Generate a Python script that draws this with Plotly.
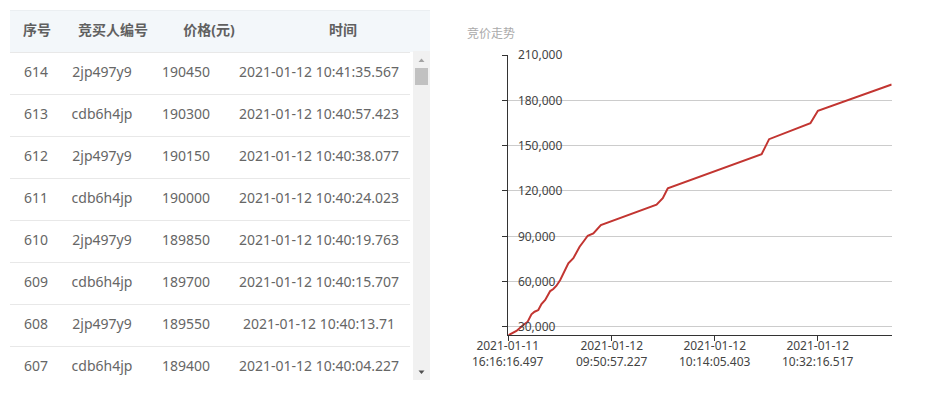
import plotly.graph_objects as go

# ---------------- data ----------------
header_labels = ["序号", "竞买人编号", "价格(元)", "时间"]
bid_seq = [614, 613, 612, 611, 610, 609, 608, 607]
bidder_ids = ["2jp497y9", "cdb6h4jp", "2jp497y9", "cdb6h4jp",
              "2jp497y9", "cdb6h4jp", "2jp497y9", "cdb6h4jp"]
bid_prices = [190450, 190300, 190150, 190000, 189850, 189700, 189550, 189400]
bid_times = ["2021-01-12 10:41:35.567", "2021-01-12 10:40:57.423",
             "2021-01-12 10:40:38.077", "2021-01-12 10:40:24.023",
             "2021-01-12 10:40:19.763", "2021-01-12 10:40:15.707",
             "2021-01-12 10:40:13.71", "2021-01-12 10:40:04.227"]

# price trend (bid sequence number vs price)
trend_seq = [1, 14, 25, 32, 38, 43, 49, 54, 60, 68, 73, 78, 84, 89, 97, 105,
             110, 115, 121, 128, 137, 149, 238, 243, 248, 256, 366, 371, 406,
             418, 484, 496, 614]
trend_price = [24500, 27350, 31300, 33500, 38400, 40100, 41200, 45200, 47900,
               53800, 55100, 57300, 61100, 65500, 72100, 75500, 79800, 83100,
               86400, 90400, 92000, 97500, 110900, 112900, 115200, 121800,
               138300, 139400, 144300, 154300, 164800, 173100, 190450]

x_tick_seq = [1, 166, 331, 496]
x_tick_labels = ["2021-01-11<br>16:16:16.497", "2021-01-12<br>09:50:57.227",
                 "2021-01-12<br>10:14:05.403", "2021-01-12<br>10:32:16.517"]
y_tick_vals = [30000, 60000, 90000, 120000, 150000, 180000, 210000]

# ---------------- layout helpers ----------------
OFF = 8                      # page body margin
W, H = 929 - OFF, 408 - OFF
FONT = "Noto Sans, Noto Sans CJK SC, sans-serif"


def px(x):
    return (x - OFF) / W


def py(y):
    return 1 - (y - OFF) / H


fig = go.Figure()

# ---- table (drawn on its own axes: x = pixel columns, y = row index) ----
row_ids = list(range(1, len(bid_seq) + 1))
body_cols = [36, 102, 186, 319]
head_cols = [37, 113, 209, 343]

fig.add_trace(go.Scatter(
    x=head_cols, y=[0] * 4, mode="text",
    text=[f"<b>{h}</b>" for h in header_labels],
    textfont=dict(family=FONT, size=14, color="#606060"),
    xaxis="x2", yaxis="y2", hoverinfo="skip", showlegend=False))

for cx, col in zip(body_cols, [bid_seq, bidder_ids, bid_prices, bid_times]):
    fig.add_trace(go.Scatter(
        x=[cx] * len(col), y=row_ids, mode="text",
        text=[str(v) for v in col],
        textfont=dict(family=FONT, size=14, color="#666"),
        xaxis="x2", yaxis="y2", hoverinfo="skip", showlegend=False))

# ---- trend chart ----
fig.add_trace(go.Scatter(
    x=trend_seq, y=trend_price, mode="lines",
    line=dict(color="#c23531", width=2),
    xaxis="x", yaxis="y", showlegend=False, hoverinfo="y"))

shapes = [
    # header background
    dict(type="rect", xref="paper", yref="y2", x0=px(10), x1=px(430),
         y0=-0.5, y1=0.5, fillcolor="#f3f7fa", line=dict(width=0), layer="below"),
    # header top border
    dict(type="line", xref="paper", yref="y2", x0=px(10), x1=px(430),
         y0=-0.5, y1=-0.5, line=dict(color="#e4e7ea", width=1)),
    # scrollbar track
    dict(type="rect", xref="paper", yref="paper", x0=px(413), x1=px(430),
         y0=py(380), y1=py(51), fillcolor="#f1f1f1", line=dict(width=0),
         layer="below"),
    # scrollbar thumb
    dict(type="rect", xref="paper", yref="paper", x0=px(415), x1=px(428),
         y0=py(85), y1=py(68), fillcolor="#c1c1c1", line=dict(width=0)),
    # arrows
    dict(type="path", xref="paper", yref="paper",
         path=f"M {px(418.5)} {py(62)} L {px(424.5)} {py(62)} L {px(421.5)} {py(58.5)} Z",
         fillcolor="#a3a3a3", line=dict(width=0)),
    dict(type="path", xref="paper", yref="paper",
         path=f"M {px(418.5)} {py(370.5)} L {px(424.5)} {py(370.5)} L {px(421.5)} {py(374)} Z",
         fillcolor="#505050", line=dict(width=0)),
]

annotations = [dict(text="竞价走势", xref="paper", yref="paper",
                    x=px(465), y=py(33), xanchor="left", yanchor="middle",
                    showarrow=False,
                    font=dict(family=FONT, size=12, color="#aaa"))]
# two-line x-axis tick labels, placed on the x axis scale
for sx, lab in zip(x_tick_seq, x_tick_labels):
    annotations.append(dict(text=lab, xref="x", yref="paper", x=sx,
                            y=py(353), xanchor="center", yanchor="middle",
                            showarrow=False, borderpad=0,
                            font=dict(family=FONT, size=12, color="#444")))

fig.update_layout(
    width=W, height=H,
    margin=dict(l=0, r=0, t=0, b=0, pad=0),
    paper_bgcolor="white", plot_bgcolor="white",
    font=dict(family=FONT, size=12, color="#333"),
    showlegend=False,
    xaxis=dict(domain=[px(508.3), px(891.7)], range=[1, 614],
               tickmode="array", tickvals=x_tick_seq, showticklabels=False,
               showgrid=False, zeroline=False, showline=True,
               linecolor="#333", linewidth=1, ticks="outside", ticklen=5,
               tickcolor="#333", automargin=False, fixedrange=True),
    yaxis=dict(domain=[py(335.3), py(55)], range=[24500, 210000],
               tickmode="array", tickvals=y_tick_vals, tickformat=",d",
               showgrid=True, gridcolor="#cccccc", gridwidth=1,
               zeroline=False, showline=True, linecolor="#333", linewidth=1,
               ticks="outside", ticklen=5, tickcolor="#333",
               ticklabelposition="inside", ticklabelstandoff=9,
               ticklabeloverflow="allow", automargin=False,
               tickfont=dict(size=12, color="#444"), fixedrange=True),
    xaxis2=dict(domain=[px(10), px(410)], range=[10, 410], visible=False,
                automargin=False, fixedrange=True),
    yaxis2=dict(domain=[py(380), py(10)], range=[-0.5 + 370 / 42, -0.5],
                tickmode="array", tickvals=[r + 0.5 for r in range(8)],
                showgrid=True, gridcolor="#e8e8e8", gridwidth=1,
                showticklabels=False, zeroline=False, showline=False,
                ticks="", automargin=False, fixedrange=True),
    shapes=shapes,
    annotations=annotations,
)

fig.write_html("out.html")
